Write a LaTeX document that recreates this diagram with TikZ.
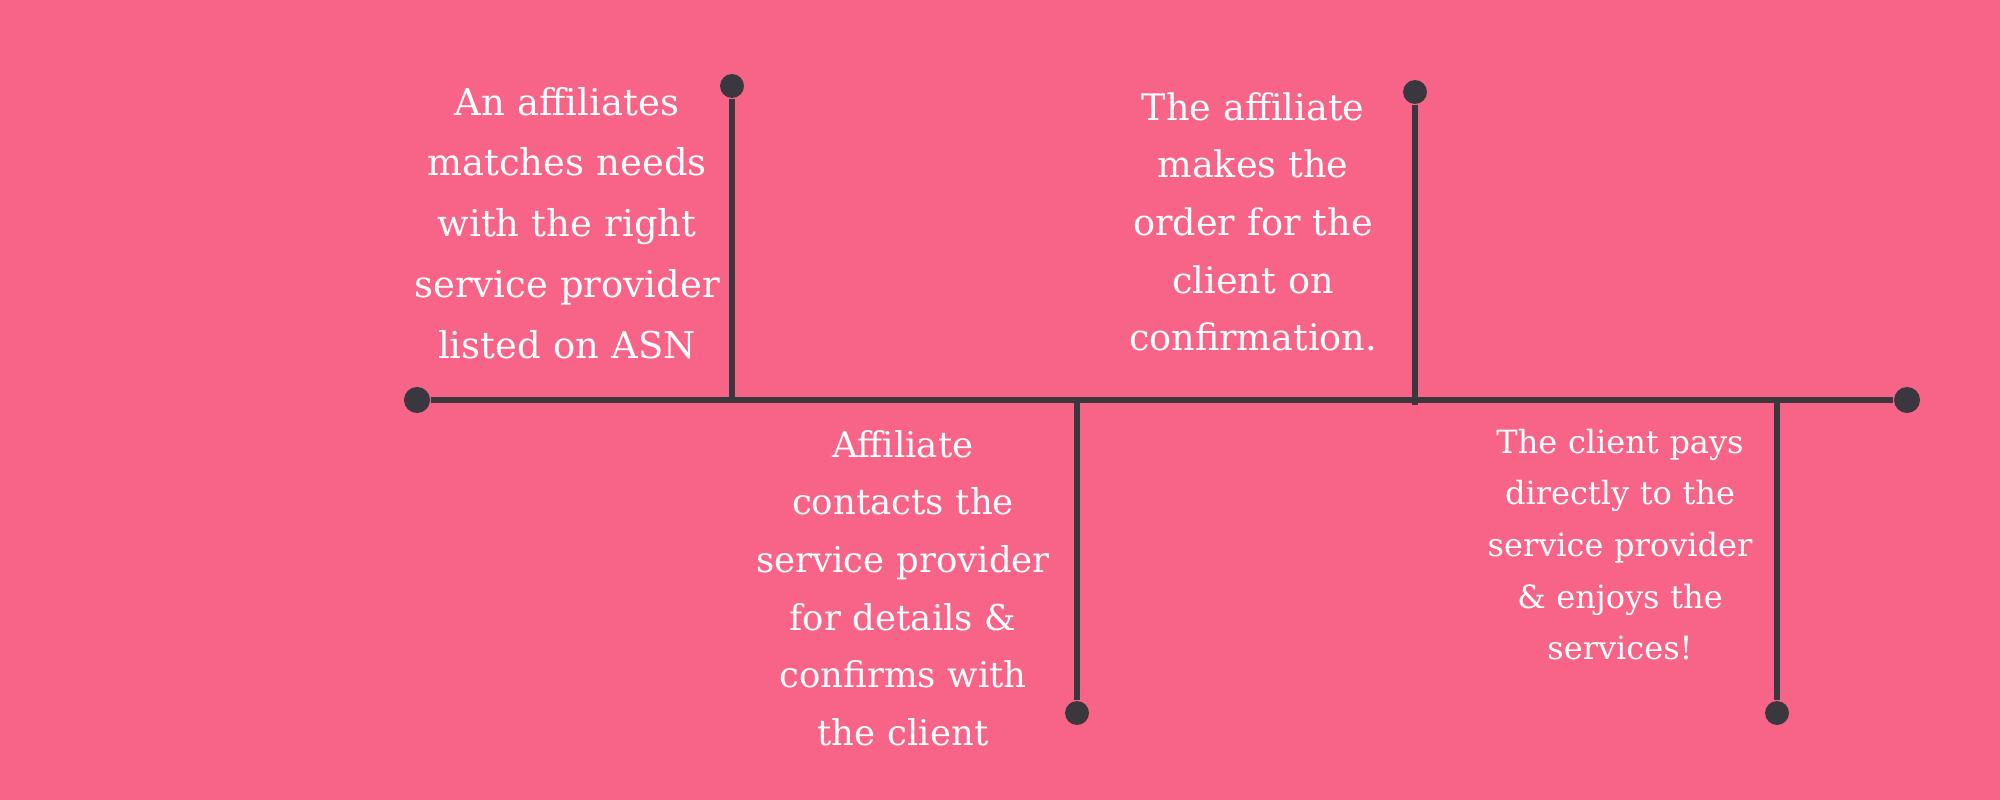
\documentclass[tikz,border=0pt]{standalone}
\usepackage{fontspec}
\setmainfont{DejaVu Serif}
\usetikzlibrary{positioning}
\definecolor{bgpink}{HTML}{F86487}
\definecolor{linegray}{HTML}{3A383E}

\begin{document}
\begin{tikzpicture}[x=0.01cm, y=-0.01cm,
  dot/.style={circle, fill=linegray, inner sep=0pt, minimum size=#1},
  bar/.style={linegray, line width=1.45pt},
  steptext/.style={text=white, align=center, anchor=base, inner sep=0pt}]
  % Background
  \fill[bgpink] (0,0) rectangle (2000,800);
  \useasboundingbox (0,0) rectangle (2000,800);

  % Main timeline
  \node[dot=7.4pt] (start) at (417,400) {};
  \node[dot=7.4pt] (end) at (1907,400) {};
  \draw[bar] (start) -- (end);

  % Branches with end dots
  \node[dot=6.8pt] (d1) at (732,86) {};
  \node[dot=6.8pt] (d2) at (1077,713) {};
  \node[dot=6.8pt] (d3) at (1415,92) {};
  \node[dot=6.8pt] (d4) at (1777,713) {};
  \coordinate (j3) at (1415,405);
  \draw[bar] (d1) -- (d1 |- start);
  \draw[bar] (d2) -- (d2 |- start);
  \draw[bar] (d3) -- (j3);
  \draw[bar] (d4) -- (d4 |- start);

  % Step texts
  \node[steptext, text width=3.3cm, font=\fontsize{10.5pt}{17.3pt}\selectfont] (t1) at (567,115)
    {An affiliates\\matches needs\\with the right\\service provider\\listed on ASN};
  \node[steptext, text width=3.2cm, font=\fontsize{10.1pt}{16.4pt}\selectfont] (t2) at (903,457)
    {Affiliate\\contacts the\\service provider\\for details \&\\confirms with\\the client};
  \node[steptext, text width=3cm, font=\fontsize{10.4pt}{16.4pt}\selectfont] (t3) at (1253,120)
    {The affiliate\\makes the\\order for the\\client on\\confirmation.};
  \node[steptext, text width=3cm, font=\fontsize{9.1pt}{14.7pt}\selectfont] (t4) at (1620,453)
    {The client pays\\directly to the\\service provider\\\& enjoys the\\services!};
\end{tikzpicture}
\end{document}
